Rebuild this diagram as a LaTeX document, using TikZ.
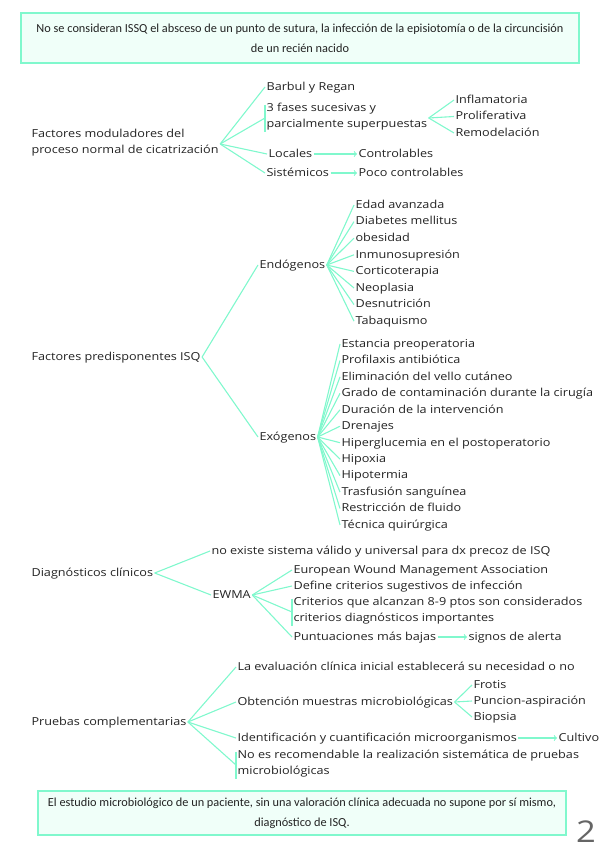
\documentclass[tikz,border=0pt]{standalone}
\usepackage{fontspec}
\setmainfont{Open Sans}[FakeStretch=1.15]
\newfontfamily\cajafont{Carlito}
\definecolor{menta}{RGB}{128,248,205}
\definecolor{mentafondo}{RGB}{240,255,249}
\definecolor{tinta}{RGB}{35,35,35}

\begin{document}
\begin{tikzpicture}[x=1pt, y=-1pt, >=to, line width=1.1pt,
  rama/.style={draw=menta},
  hoja/.style={anchor=west, inner sep=1pt, text=tinta, font=\fontsize{11}{16.5}\selectfont, execute at begin node=\strut},
  caja/.style={draw=menta, fill=mentafondo, line width=1.6pt, align=center, text=tinta, font=\cajafont\fontsize{12.3}{20}\selectfont}]

\useasboundingbox (0,0) rectangle (599,848);

% Recuadros
\node[caja, minimum width=558, minimum height=50] (nota1) at (300,38) {No se consideran ISSQ el absceso de un punto de sutura, la infección de la episiotomía o de la circuncisión\\de un recién nacido};
\node[caja, minimum width=528, minimum height=44] (nota2) at (302,813) {El estudio microbiológico de un paciente, sin una valoración clínica adecuada no supone por sí mismo,\\diagnóstico de ISQ.};

% Factores moduladores
\node[hoja, align=left] (fmod) at (30,144) {Factores moduladores del\\proceso normal de cicatrización};
\node[hoja] (barbul) at (265,87) {Barbul y Regan};
\node[hoja, align=left] (fases) at (265,118) {3 fases sucesivas y\\parcialmente superpuestas};
\node[hoja] (locales) at (267,154) {Locales};
\node[hoja] (sistem) at (265,173) {Sistémicos};
\node[hoja] (control) at (357,154) {Controlables};
\node[hoja] (pococ) at (357,173) {Poco controlables};
\foreach \t [count=\i] in {Inflamatoria, Proliferativa, Remodelación}
  \node[hoja] (fase\i) at (454, {100+16.5*(\i-1)}) {\t};

\foreach \n in {barbul, fases, locales, sistem}
  \draw[rama] (fmod.east) -- (\n.west);
\draw[rama] ([yshift=-3pt]fases.north west) -- ([yshift=2pt]fases.south west);
\foreach \i in {1,2,3}
  \draw[rama] (fases.east) -- (fase\i.west);
\draw[rama, ->] (locales) -- (control);
\draw[rama, ->] (sistem) -- (pococ);

% Factores predisponentes
\node[hoja] (fpre) at (30,357) {Factores predisponentes ISQ};
\node[hoja] (endog) at (258,265) {Endógenos};
\node[hoja] (exog) at (258,437) {Exógenos};
\draw[rama] (fpre.east) -- (endog.west);
\draw[rama] (fpre.east) -- (exog.west);
\foreach \t [count=\i] in {Edad avanzada, Diabetes mellitus, obesidad, Inmunosupresión, Corticoterapia, Neoplasia, Desnutrición, Tabaquismo}{
  \node[hoja] (endo\i) at (354, {205+16.6*(\i-1)}) {\t};
  \draw[rama] (endog.east) -- (endo\i.west);
}
\foreach \t [count=\i] in {Estancia preoperatoria, Profilaxis antibiótica, Eliminación del vello cutáneo, Grado de contaminación durante la cirugía, Duración de la intervención, Drenajes, Hiperglucemia en el postoperatorio, Hipoxia, Hipotermia, Trasfusión sanguínea, Restricción de fluido, Técnica quirúrgica}{
  \node[hoja] (exo\i) at (340, {344+16.45*(\i-1)}) {\t};
  \draw[rama] (exog.east) -- (exo\i.west);
}

% Diagnosticos clinicos
\node[hoja] (diag) at (30,573) {Diagnósticos clínicos};
\node[hoja] (noexis) at (210,551) {no existe sistema válido y universal para dx precoz de ISQ};
\node[hoja] (ewma) at (211,595) {EWMA};
\node[hoja] (europ) at (292,570) {European Wound Management Association};
\node[hoja] (define) at (292,586) {Define criterios sugestivos de infección};
\node[hoja, align=left] (criter) at (292,612) {Criterios que alcanzan 8-9 ptos son considerados\\criterios diagnósticos importantes};
\node[hoja] (puntua) at (292,637) {Puntuaciones más bajas};
\node[hoja] (signos) at (467,637) {signos de alerta};
\draw[rama] (diag.east) -- (noexis.west);
\draw[rama] (diag.east) -- (ewma.west);
\foreach \n in {europ, define, criter, puntua}
  \draw[rama] (ewma.east) -- (\n.west);
\draw[rama] ([yshift=-3pt]criter.north west) -- ([yshift=2pt]criter.south west);
\draw[rama, ->] (puntua) -- (signos);

% Pruebas complementarias
\node[hoja] (pruebas) at (30,722) {Pruebas complementarias};
\node[hoja] (evalua) at (236,667) {La evaluación clínica inicial establecerá su necesidad o no};
\node[hoja] (obten) at (236,702) {Obtención muestras microbiológicas};
\node[hoja] (ident) at (236,738) {Identificación y cuantificación microorganismos};
\node[hoja] (cultivo) at (557,738) {Cultivo};
\node[hoja, align=left] (noes) at (236,765) {No es recomendable la realización sistemática de pruebas\\microbiológicas};
\foreach \t [count=\i] in {Frotis, Puncion-aspiración, Biopsia}{
  \node[hoja] (muestra\i) at (472, {685+16*(\i-1)}) {\t};
  \draw[rama] (obten.east) -- (muestra\i.west);
}
\foreach \n in {evalua, obten, ident, noes}
  \draw[rama] (pruebas.east) -- (\n.west);
\draw[rama] ([yshift=-3pt]noes.north west) -- ([yshift=2pt]noes.south west);
\draw[rama, ->] (ident) -- (cultivo);

\node[text=tinta!70, anchor=base, inner sep=0pt, font=\fontsize{30}{30}\selectfont] (pagina) at (586,842) {2};
\end{tikzpicture}
\end{document}
